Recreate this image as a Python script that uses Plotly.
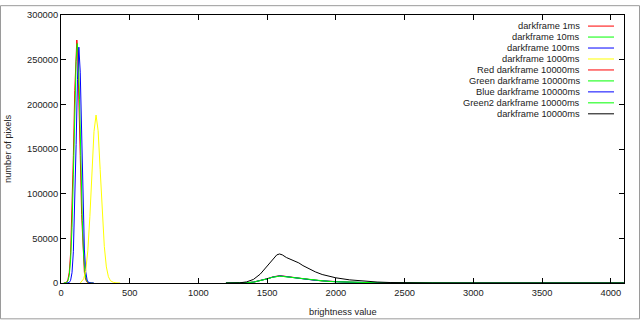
import plotly.graph_objects as go

# ---------------- data ----------------
names = ["darkframe 1ms", "darkframe 10ms", "darkframe 100ms", "darkframe 1000ms",
         "Red darkframe 10000ms", "Green darkframe 10000ms", "Blue darkframe 10000ms",
         "Green2 darkframe 10000ms", "darkframe 10000ms"]
colors = ["#ff0000", "#00ff00", "#0000ff", "#ffff00",
          "#ff0000", "#00ff00", "#0000ff", "#00ff00", "#000000"]

x_1ms = [20, 40, 50, 60, 70, 80, 90, 100, 110, 115, 120, 130, 140, 150, 160, 170, 180, 190, 200, 210, 230]
y_1ms = [0, 800, 3500, 12000, 33700, 76700, 142600, 215700, 265000, 272000, 265000, 215700,
         142600, 76700, 33700, 12000, 3500, 800, 150, 0, 0]

x_10ms = [20, 40, 50, 60, 70, 80, 90, 100, 110, 118, 125, 135, 145, 155, 165, 175, 185, 195, 205, 215, 235]
y_10ms = [0, 500, 2200, 8500, 26000, 62000, 121000, 192000, 248000, 268000, 258000, 205000,
          132000, 70000, 30000, 10500, 3000, 700, 120, 0, 0]

x_100ms = [40, 60, 70, 80, 90, 100, 110, 120, 130, 140, 150, 160, 170, 180, 190, 200, 210, 220, 240]
y_100ms = [0, 600, 3000, 11500, 35000, 83000, 155000, 228000, 264000, 236000, 165000, 90000,
           38000, 12500, 3300, 700, 100, 0, 0]

x_1000ms = [140, 165, 180, 195, 210, 225, 240, 255, 270, 285, 300, 315, 330, 345, 360, 380, 400, 430]
y_1000ms = [0, 4600, 14200, 36000, 74200, 124300, 169600, 188000, 170500, 127000, 79000, 41000,
            18000, 7000, 2500, 800, 200, 0]

x_10k = [1200, 1300, 1350, 1400, 1450, 1500, 1540, 1570, 1590, 1610, 1640, 1670, 1700, 1730,
         1760, 1800, 1850, 1900, 1950, 2000, 2100, 2200, 2300, 2400, 2500, 2700, 3000, 4095]
y_red_10k = [0, 60, 300, 1000, 2500, 4800, 6800, 7900, 8200, 7900, 7200, 6700, 6300, 5700,
             4900, 4000, 3100, 2400, 1900, 1450, 880, 500, 280, 130, 50, 10, 0, 0]
y_green_10k = [0, 50, 280, 950, 2400, 4600, 6500, 7500, 7700, 7500, 6900, 6400, 6000, 5400,
               4700, 3850, 3000, 2300, 1800, 1400, 850, 480, 270, 120, 50, 10, 0, 0]
y_blue_10k = [0, 55, 290, 1000, 2450, 4700, 6600, 7700, 7950, 7700, 7000, 6550, 6150, 5550,
              4800, 3950, 3050, 2350, 1850, 1420, 860, 490, 270, 120, 50, 10, 0, 0]
y_green2_10k = [0, 50, 280, 950, 2400, 4600, 6500, 7450, 7650, 7400, 6850, 6350, 5950, 5350,
                4650, 3800, 2950, 2250, 1750, 1380, 840, 470, 260, 120, 50, 10, 0, 0]
y_all_10k = [0, 200, 1200, 4000, 10000, 19000, 27000, 31500, 32500, 31500, 28500, 26500, 25000,
             22500, 19500, 16000, 12500, 9500, 7500, 5800, 3500, 2000, 1100, 500, 200, 50, 0, 0]

xs = [x_1ms, x_10ms, x_100ms, x_1000ms, x_10k, x_10k, x_10k, x_10k, x_10k]
ys = [y_1ms, y_10ms, y_100ms, y_1000ms, y_red_10k, y_green_10k, y_blue_10k, y_green2_10k, y_all_10k]

x_ticks = [0, 500, 1000, 1500, 2000, 2500, 3000, 3500, 4000]
y_ticks = [0, 50000, 100000, 150000, 200000, 250000, 300000]

# ---------------- figure ----------------
W, H = 640, 320
L, R, T, B = 61, 16, 10, 37
pw, ph = W - L - R, H - T - B

def px(xp):
    return (xp - L) / pw

def py(yp):
    return (H - B - yp) / ph

fig = go.Figure()
for n, c, xv, yv in zip(names, colors, xs, ys):
    fig.add_trace(go.Scatter(x=xv, y=yv, mode="lines", name=n, showlegend=False,
                             line=dict(color=c, width=1), hoverinfo="skip"))

font = dict(family="Liberation Sans, Arial, sans-serif", size=9.3, color="#222222")

shapes = [dict(type="rect", xref="paper", yref="paper",
               x0=px(0.5), x1=px(639.5), y0=py(319.5), y1=py(0.5),
               line=dict(color="#9a9a9a", width=1), layer="below")]
annotations = []
for i, (n, c) in enumerate(zip(names, colors)):
    yy = py(21.3 + i * 11.17)
    annotations.append(dict(xref="paper", yref="paper", x=px(582), y=yy, text=n,
                            showarrow=False, xanchor="right", yanchor="middle", font=font))
    shapes.append(dict(type="line", xref="paper", yref="paper", x0=px(588), x1=px(614),
                       y0=yy, y1=yy, line=dict(color=c, width=1)))

# axis titles placed as annotations for precise positioning
annotations.append(dict(xref="paper", yref="paper", x=px(342.5), y=py(313), text="brightness value",
                        showarrow=False, xanchor="center", yanchor="middle", font=font))
annotations.append(dict(xref="paper", yref="paper", x=px(8), y=py(146.5), text="number of pixels",
                        showarrow=False, xanchor="center", yanchor="middle", textangle=-90, font=font))

axis_common = dict(showline=True, linecolor="black", linewidth=1, mirror="ticks",
                   ticks="inside", ticklen=5, tickcolor="black", showgrid=False,
                   zeroline=False, tickfont=font)

fig.update_layout(
    width=W, height=H,
    margin=dict(l=L, r=R, t=T, b=B, pad=0),
    paper_bgcolor="white", plot_bgcolor="white",
    font=font,
    xaxis=dict(range=[0, 4096], tickvals=x_ticks, ticktext=[str(v) for v in x_ticks],
               ticklabelstandoff=1, **axis_common),
    yaxis=dict(range=[0, 300000], tickvals=y_ticks, ticktext=[str(v) for v in y_ticks],
               **axis_common),
    shapes=shapes, annotations=annotations,
)

fig.write_html("out.html", config={"displayModeBar": False},
               post_script="document.body.style.margin='0';document.body.style.overflow='hidden';")
